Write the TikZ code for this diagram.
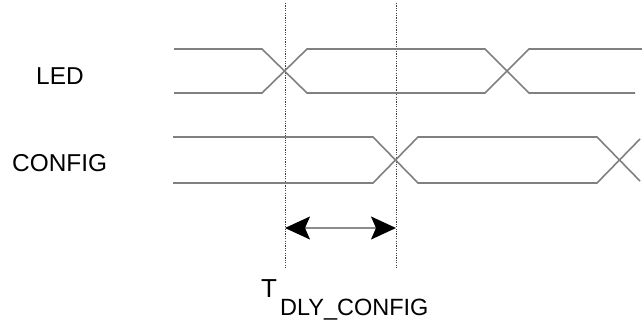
\documentclass[tikz,border=0pt]{standalone}
\usepackage{fontspec}
\setmainfont{Liberation Sans}
\usetikzlibrary{arrows.meta}
\begin{document}
\begin{tikzpicture}[x=1pt,y=-1pt,
  sig/.style={draw=black!50,line width=1.6pt,line join=miter},
  guide/.style={draw=black!75,line width=0.7pt,dash pattern=on 1.2pt off 1.2pt},
  dimarrow/.style={draw=black!45,line width=1.6pt,
    {Stealth[length=25pt,width=23pt,inset=5pt,black]}-{Stealth[length=25pt,width=23pt,inset=5pt,black]}},
  lbl/.style={inner sep=0pt,font=\fontsize{24.4}{26}\selectfont}]
\useasboundingbox (0,0) rectangle (642,324);
% guides
\coordinate (g1t) at (285,3);
\coordinate (g1b) at (285,268);
\coordinate (g2t) at (396,3);
\coordinate (g2b) at (396,268);
\draw[guide] (g1t) -- (g1b);
\draw[guide] (g2t) -- (g2b);
% LED
\draw[sig] (174,49) -- (262,49) -- (307,93) -- (485,93) -- (529,49) -- (642,49);
\draw[sig] (174,93) -- (262,93) -- (307,49) -- (485,49) -- (529,93) -- (635,93);
% CONFIG
\draw[sig] (173,137) -- (373,137) -- (418,183) -- (597,183) -- (640,139);
\draw[sig] (173,183) -- (373,183) -- (418,137) -- (597,137) -- (640,181);
% labels
\node[lbl,anchor=west] (led) at (36,76) {LED};
\node[lbl,anchor=west] (config) at (12,163) {CONFIG};
% delay arrow
\coordinate (a1) at (285,228);
\coordinate (a2) at (396,228);
\draw[dimarrow] (a1) -- (a2);
\node[inner sep=0pt,anchor=base west] (tdly) at (261,297)
  {{\fontsize{26}{26}\selectfont T}\kern3pt\raisebox{-18pt}{\fontsize{23.5}{24}\selectfont DLY\_CONFIG}};
\end{tikzpicture}
\end{document}
